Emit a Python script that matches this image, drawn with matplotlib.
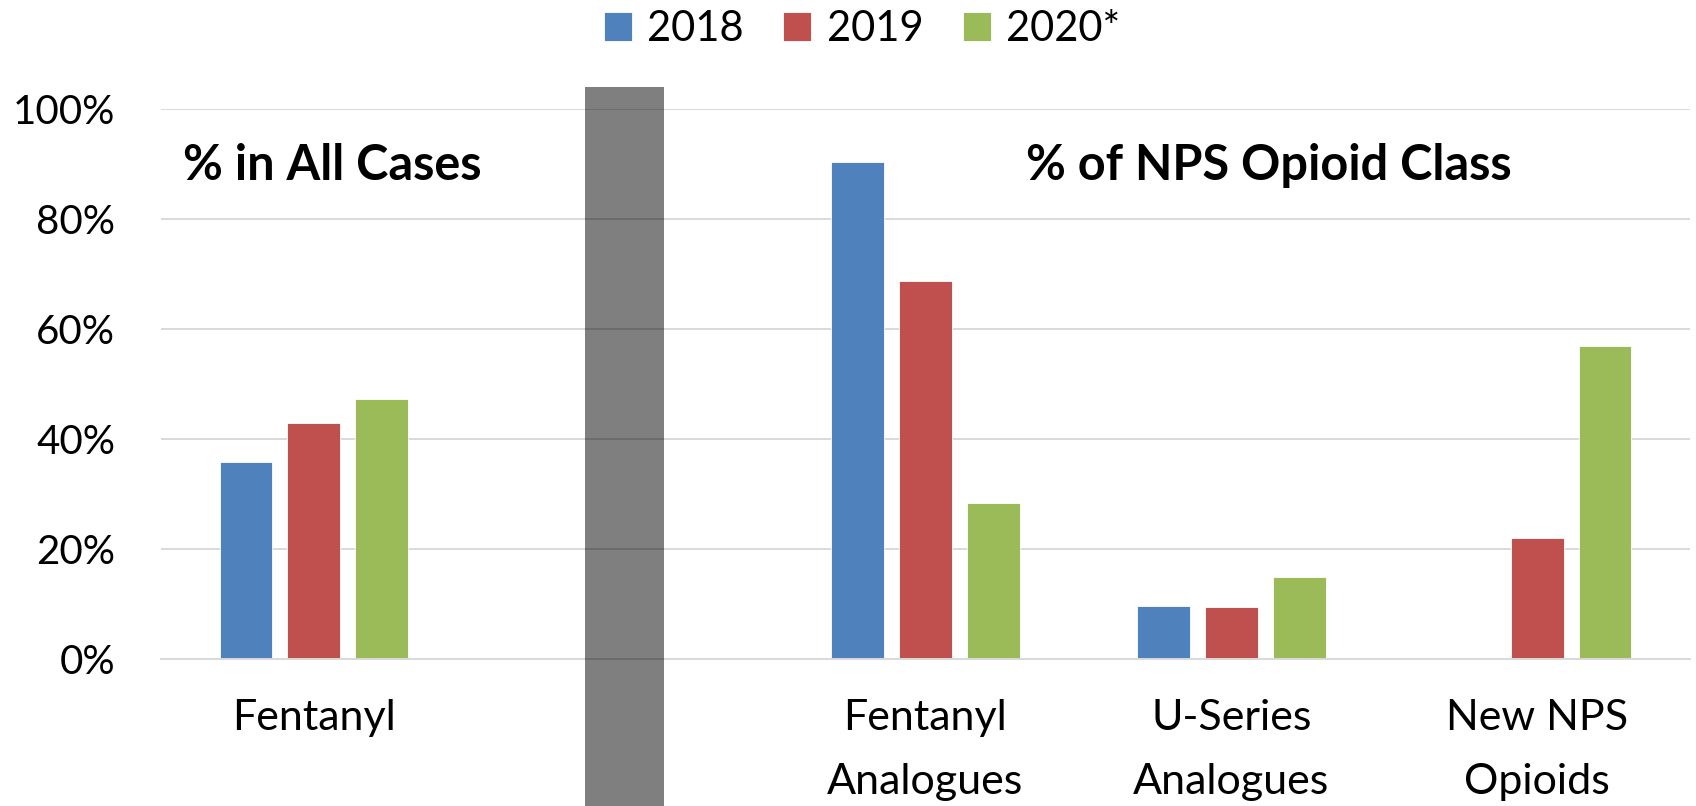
import numpy as np
import matplotlib
matplotlib.use("Agg")
import matplotlib.pyplot as plt

plt.rcParams['font.family'] = ['Lato', 'DejaVu Sans']

categories = ["Fentanyl", "", "Fentanyl\nAnalogues", "U-Series\nAnalogues", "New NPS\nOpioids"]
years = ["2018", "2019", "2020*"]
v2018 = [35.8, np.nan, 90.4, 9.5, np.nan]
v2019 = [42.8, np.nan, 68.7, 9.35, 21.9]
v2020 = [47.2, np.nan, 28.4, 14.85, 56.8]
colors = ["#4F81BD", "#C0504D", "#9BBB59"]

# separator block standing in the empty slot between the two panels
sep_pos = 1
sep_top = 104
sep_bottom = -30

fig = plt.figure(figsize=(16.96, 8.06), dpi=100)
ax = fig.add_axes([161 / 1696, 1 - 658.7 / 806, (1690 - 161) / 1696, 550 / 806])

x = np.arange(len(categories))
width = 0.173
step = 0.222
handles = []
for i, (vals, c) in enumerate(zip([v2018, v2019, v2020], colors)):
    b = ax.bar(x + (i - 1) * step, vals, width, color=c, edgecolor="#FFFFFF",
               linewidth=0.6, zorder=2, label=years[i])
    handles.append(b)

ax.bar(sep_pos + 0.016, sep_top - sep_bottom, 0.26, bottom=sep_bottom,
       color="black", alpha=0.5, clip_on=False, zorder=3, linewidth=0)

ax.set_xlim(-0.5, len(categories) - 0.5)
ax.set_ylim(0, 100)
ax.set_yticks(np.arange(0, 101, 20))
ax.set_yticklabels([f"{v}%" for v in range(0, 101, 20)], fontsize=29)
ax.set_xticks(x)
ax.set_xticklabels(categories, fontsize=31, linespacing=1.85)
ax.tick_params(axis="y", length=0, pad=33)
ax.tick_params(axis="x", length=0, pad=29)
ax.grid(axis="y", color="#D9D9D9", linewidth=1.4, zorder=1)
for s in ["top", "right", "left"]:
    ax.spines[s].set_visible(False)
ax.spines["bottom"].set_color("#D9D9D9")
ax.spines["bottom"].set_linewidth(1.4)
ax.set_axisbelow(True)

fig.text(183 / 1696, 1 - 180 / 806, "% in All Cases", fontsize=35,
         fontweight="bold", va="baseline", ha="left")
fig.text(1026 / 1696, 1 - 180 / 806, "% of NPS Opioid Class", fontsize=35,
         fontweight="bold", va="baseline", ha="left")

fig.legend(handles=handles, labels=years, loc="center", ncol=3,
           bbox_to_anchor=(862 / 1696, 1 - 29 / 806), frameon=False,
           fontsize=30, handlelength=0.67, handleheight=0.67,
           handletextpad=0.37, columnspacing=0.95, borderpad=0)

fig.savefig("out.png", dpi=100)
